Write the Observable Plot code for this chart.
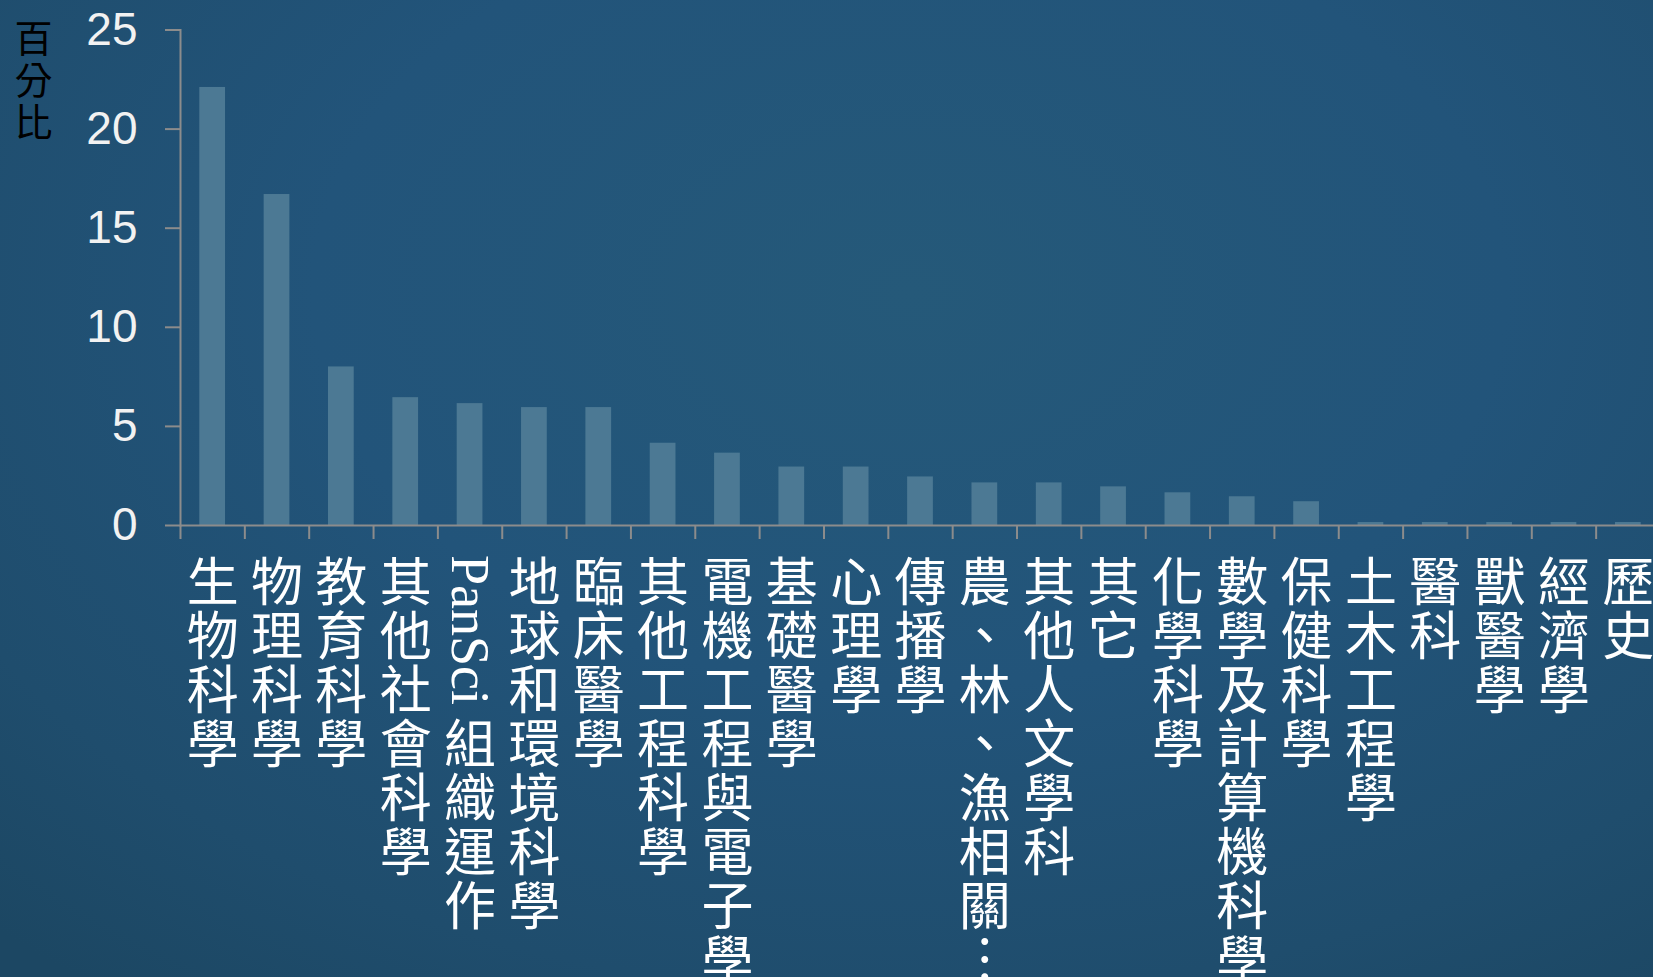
<!DOCTYPE html>
<html>
<head>
<meta charset="utf-8">
<script src="https://cdn.jsdelivr.net/npm/d3@7"></script>
<script src="https://cdn.jsdelivr.net/npm/@observablehq/plot@0.6"></script>
<style>
  html, body { margin: 0; padding: 0; }
  #wrap {
    width: 1653px; height: 977px; overflow: hidden; position: relative;
    background: radial-gradient(ellipse 80% 90% at 55% 30%, #255979 0%, #22547a 45%, #1f4d6d 80%, #1c4763 100%);
  }
</style>
</head>
<body>
<div id="wrap"></div>
<script>
const categories = [
  "生物科學", "物理科學", "教育科學", "其他社會科學", "PanSci 組織運作",
  "地球和環境科學", "臨床醫學", "其他工程科學", "電機工程與電子學", "基礎醫學",
  "心理學", "傳播學", "農、林、漁相關…", "其他人文學科", "其它",
  "化學科學", "數學及計算機科學", "保健科學", "土木工程學", "醫科",
  "獸醫學", "經濟學", "歷史"
];
const values = [
  22.1, 16.7, 8.0, 6.45, 6.15,
  5.95, 5.95, 4.15, 3.65, 2.95,
  2.95, 2.45, 2.15, 2.15, 1.95,
  1.65, 1.45, 1.2, 0.15, 0.15,
  0.15, 0.15, 0.15
];
const yTicks = [0, 5, 10, 15, 20, 25];
const yLabel = "百分比";

const data = categories.map((c, i) => ({category: c, value: values[i]}));

// vertical (top-to-bottom) layout of the category labels
const labelSize = 52, latinSize = 54, pitch = 54;
const cjkFont = "'Noto Sans CJK TC', sans-serif";
const latinFont = "'Liberation Serif', serif";
const ctx = document.createElement("canvas").getContext("2d");
ctx.font = `${latinSize}px 'Liberation Serif'`;
const verticalForms = {"…": "︙"};
const labelRows = [];
const latinRuns = [];
for (const c of categories) {
  const lines = [];
  for (const tok of c.match(/[A-Za-z0-9.]+ ?|./gu)) {
    if (/^[A-Za-z0-9.]/.test(tok)) {
      const w = ctx.measureText(tok).width;
      const n = Math.max(1, Math.round(w / pitch));
      latinRuns.push({category: c, run: tok.trim(), start: lines.length, len: ctx.measureText(tok.trim()).width});
      for (let k = 0; k < n; k++) lines.push("");
    } else {
      lines.push(verticalForms[tok] || tok);
    }
  }
  labelRows.push({category: c, display: lines.join("\n")});
}

const xRange = [180, 1660];
const halfStep = (xRange[1] - xRange[0]) / categories.length / 2;
const axisColor = "#8c8c8c";
const labelTop = 30;

const chart = Plot.plot({
  width: 1653,
  height: 977,
  marginLeft: 180,
  marginTop: 29.5,
  marginBottom: 452,
  marginRight: 0,
  style: {background: "transparent", overflow: "hidden"},
  x: {domain: categories, range: xRange, paddingInner: 0.6, paddingOuter: 0.3, round: false},
  y: {domain: [0, 25]},
  marks: [
    Plot.barY(data, {x: "category", y: "value", fill: "#4c7994"}),
    Plot.frame({anchor: "left", stroke: axisColor, strokeWidth: 2}),
    Plot.ruleY([0], {stroke: axisColor, strokeWidth: 2}),
    Plot.axisY({
      ticks: yTicks, tickSize: 15, tickPadding: 28, fontSize: 46,
      stroke: axisColor, strokeWidth: 2, fill: "#f2f2f2", label: null,
      fontFamily: "'Liberation Sans', Arial, sans-serif"
    }),
    Plot.axisX({
      tickSize: 14, tickFormat: () => "", dx: -halfStep,
      stroke: axisColor, strokeWidth: 2, label: null
    }),
    Plot.text(labelRows, {
      x: "category", text: "display", frameAnchor: "bottom", dy: 37,
      lineAnchor: "top", lineHeight: pitch / labelSize, textAnchor: "middle",
      fill: "#ffffff", fontSize: labelSize, fontFamily: cjkFont
    }),
    ...latinRuns.map(r => Plot.text([r], {
      x: "category", text: "run", frameAnchor: "bottom", dy: labelTop + r.start * pitch,
      rotate: 90, textAnchor: "start", fill: "#ffffff",
      fontSize: latinSize, fontFamily: latinFont
    })),
    Plot.text([yLabel.split("").join("\n")], {
      frameAnchor: "top-left", dx: -147, dy: -8, textAnchor: "middle",
      lineAnchor: "top", lineHeight: 42 / 38,
      fill: "#000000", fontSize: 38, fontFamily: cjkFont
    })
  ]
});

document.getElementById("wrap").appendChild(chart);

// keep each sideways Latin run centred on its band and at its nominal length
const xs = chart.scale("x");
const runNodes = Array.from(chart.querySelectorAll("text")).filter(t => latinRuns.some(r => r.run === t.textContent));
runNodes.forEach(el => {
  const r = latinRuns.find(r => r.run === el.textContent);
  const s = chart.getBoundingClientRect();
  let b = el.getBoundingClientRect();
  if (b.height > 0 && Math.abs(b.height - r.len) > 3) {
    const cur = parseFloat(getComputedStyle(el).fontSize);
    el.style.fontSize = (cur * r.len / b.height) + "px";
    b = el.getBoundingClientRect();
  }
  const cx = xs.apply(r.category) + xs.bandwidth / 2;
  const dx = cx - (b.left - s.left + b.width / 2);
  const dy = (525 + labelTop + r.start * pitch) - (b.top - s.top);
  el.setAttribute("transform", `translate(${dx},${dy}) ${el.getAttribute("transform") || ""}`);
});
</script>
</body>
</html>
